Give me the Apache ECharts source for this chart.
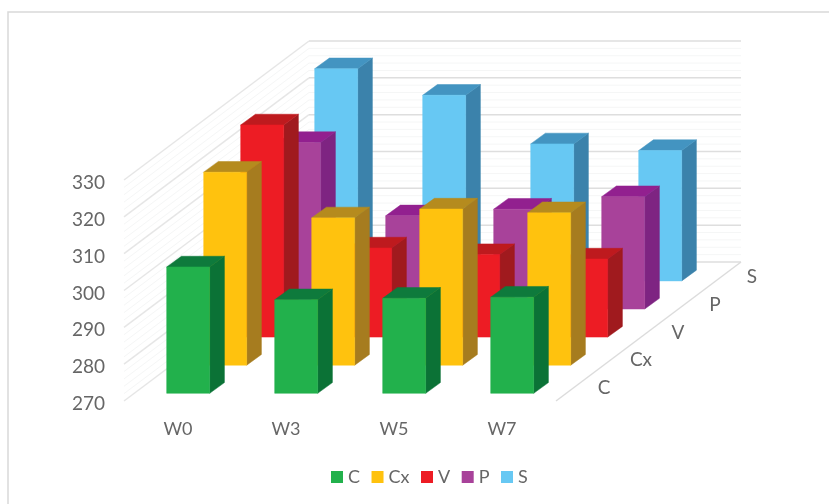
<!DOCTYPE html>
<html>
<head>
<meta charset="utf-8">
<style>html,body{margin:0;padding:0;background:#fff}#chart{width:829px;height:504px}</style>
<script src="https://cdn.jsdelivr.net/npm/echarts@6/dist/echarts.min.js"></script>
</head>
<body>
<div id="chart"></div>
<script>
// Weeks along the front edge, treatment rows going back into the chart.
const weeks = ['W0', 'W3', 'W5', 'W7'];
const rows = ['C', 'Cx', 'V', 'P', 'S'];
const valueTicks = [270, 280, 290, 300, 310, 320, 330];
const minorTicks = [272, 274, 276, 278, 282, 284, 286, 288, 292, 294, 296, 298, 302, 304, 306, 308, 312, 314, 316, 318, 322, 324, 326, 328];

const valuesC = [304.3, 295.4, 295.8, 296.1];
const valuesCx = [322.4, 310.0, 312.4, 311.4];
const valuesV = [327.6, 294.2, 292.4, 291.2];
const valuesP = [315.2, 295.3, 297.1, 300.5];
const valuesS = [327.6, 320.4, 307.2, 305.4];

const rowValues = [valuesC, valuesCx, valuesV, valuesP, valuesS];
const faceColors = [
  { front: '#22B14C', side: '#0B7236', top: '#0E7A3C' },
  { front: '#FFC20E', side: '#A67C1F', top: '#B58B1E' },
  { front: '#ED1C24', side: '#A01A1E', top: '#BE1A1E' },
  { front: '#A8429A', side: '#7E2482', top: '#92208F' },
  { front: '#67C8F3', side: '#3B82AB', top: '#4394C1' }
];

// Oblique projection of the depth axis, in pixels.
const ROW_DX = 37, ROW_DY = -28.1;     // one treatment row further back
const WALL_DX = 185, WALL_DY = -139;   // full depth of the floor
const INSET_DX = 10.2, INSET_DY = -7.7; // first bar behind the front edge
const BAR_DX = 14.7, BAR_DY = -10.7;   // depth of one bar
const BAR_WIDTH = 43;
const BASE = valueTicks[0];
const FONT = 'Lato, "Open Sans", sans-serif';
const TEXT_COLOR = '#666';

function polygon(points, color) {
  return { type: 'polygon', shape: { points }, style: { fill: color, stroke: color, lineWidth: 0.5 } };
}

function barRenderer(row) {
  return function (params, api) {
    const base = api.coord([api.value(0), BASE]);
    const top = api.coord([api.value(0), api.value(1)]);
    const ox = INSET_DX + ROW_DX * row;
    const oy = INSET_DY + ROW_DY * row;
    const xl = base[0] - BAR_WIDTH / 2 + ox;
    const xr = xl + BAR_WIDTH;
    const yb = base[1] + oy;
    const yt = top[1] + oy;
    const c = faceColors[row];
    return {
      type: 'group',
      children: [
        polygon([[xr, yb], [xr + BAR_DX, yb + BAR_DY], [xr + BAR_DX, yt + BAR_DY], [xr, yt]], c.side),
        polygon([[xl, yt], [xr, yt], [xr + BAR_DX, yt + BAR_DY], [xl + BAR_DX, yt + BAR_DY]], c.top),
        polygon([[xl, yb], [xr, yb], [xr, yt], [xl, yt]], c.front)
      ]
    };
  };
}

// Left and back walls: each tick runs from the front edge to the back corner, then across.
function wallRenderer(sideColor, backColor, width) {
  return function (params, api) {
    const p = api.coord([0, api.value(1)]);
    const band = api.size([1, 0])[0];
    const x0 = p[0] - band / 2;
    const xb = x0 + WALL_DX;
    const yb = p[1] + WALL_DY;
    return {
      type: 'group',
      children: [
        { type: 'line', shape: { x1: x0, y1: p[1], x2: xb, y2: yb }, style: { stroke: sideColor, lineWidth: width } },
        { type: 'line', shape: { x1: xb, y1: yb, x2: xb + band * weeks.length, y2: yb }, style: { stroke: backColor, lineWidth: width } }
      ]
    };
  };
}

function floorEdge(params, api) {
  const p = api.coord([weeks.length - 1, BASE]);
  const band = api.size([1, 0])[0];
  const x0 = p[0] + band / 2;
  return {
    type: 'line',
    shape: { x1: x0, y1: p[1], x2: x0 + WALL_DX, y2: p[1] + WALL_DY },
    style: { stroke: '#DCDCDC', lineWidth: 1.5 }
  };
}

function rowLabel(params, api) {
  const p = api.coord([weeks.length - 1, BASE]);
  const band = api.size([1, 0])[0];
  const i = params.dataIndex;
  return {
    type: 'text',
    x: p[0] + band / 2 + ROW_DX * (i + 0.5) + 29.5,
    y: p[1] + WALL_DY / rows.length * (i + 0.5) + 1,
    style: { text: rows[i], fill: TEXT_COLOR, fontFamily: FONT, fontSize: 19, textAlign: 'center', textVerticalAlign: 'middle' }
  };
}

const barSeries = rows.map((name, row) => ({
  name,
  type: 'custom',
  coordinateSystem: 'cartesian2d',
  z: 10 + rows.length - row,
  itemStyle: { color: faceColors[row].front },
  encode: { x: 0, y: 1 },
  data: rowValues[row].map((v, i) => [i, v]),
  renderItem: barRenderer(row),
  silent: true
}));

const chart = echarts.init(document.getElementById('chart'), null, { renderer: 'canvas' });
chart.setOption({
  animation: false,
  backgroundColor: '#fff',
  graphic: [{
    type: 'rect', z: 0, silent: true,
    shape: { x: 8, y: 12, width: 900, height: 600 },
    style: { fill: '#fff', stroke: '#D9D9D9', lineWidth: 1.5 }
  }],
  grid: { left: 124, width: 432, top: 180, height: 221 },
  xAxis: {
    type: 'category', data: weeks,
    axisLine: { show: false }, axisTick: { show: false }, splitLine: { show: false },
    axisLabel: { color: TEXT_COLOR, fontFamily: FONT, fontSize: 18, margin: 19 }
  },
  yAxis: {
    type: 'value', min: 270, max: 330, interval: 10,
    axisLine: { show: false }, axisTick: { show: false }, splitLine: { show: false },
    axisLabel: { color: TEXT_COLOR, fontFamily: FONT, fontSize: 19, margin: 19, verticalAlign: 'top', lineHeight: 6 }
  },
  legend: {
    left: 326, top: 463, icon: 'rect', itemWidth: 12, itemHeight: 12, itemGap: 11.5,
    data: rows, selectedMode: false,
    textStyle: { color: TEXT_COLOR, fontFamily: FONT, fontSize: 18 }
  },
  series: [
    { type: 'custom', coordinateSystem: 'cartesian2d', z: 2, silent: true, encode: { x: 0, y: 1 },
      data: minorTicks.map(v => [0, v]), renderItem: wallRenderer('#F5F6F6', '#F5F6F6', 1) },
    { type: 'custom', coordinateSystem: 'cartesian2d', z: 3, silent: true, encode: { x: 0, y: 1 },
      data: valueTicks.map(v => [0, v]), renderItem: wallRenderer('#E6E6E6', '#DEDEDE', 1.5) },
    { type: 'custom', coordinateSystem: 'cartesian2d', z: 3, silent: true, encode: { x: 0, y: 1 },
      data: [[0, BASE]], renderItem: floorEdge },
    { type: 'custom', coordinateSystem: 'cartesian2d', z: 4, silent: true, encode: { x: 0, y: 1 },
      data: rows.map(() => [0, BASE]), renderItem: rowLabel },
    ...barSeries
  ]
});
</script>
</body>
</html>
